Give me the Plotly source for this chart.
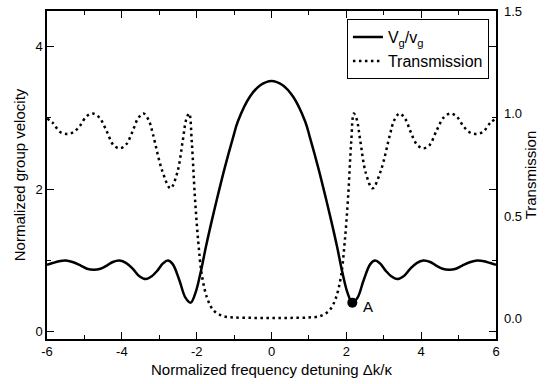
import plotly.graph_objects as go

# Normalized group velocity Vg/vg vs normalized detuning
detuning_vg = [-6.0, -5.85, -5.68, -5.5, -5.32, -5.1, -4.93, -4.75, -4.57, -4.4, -4.24, -4.06,
               -3.88, -3.7, -3.53, -3.36, -3.2, -3.05, -2.9, -2.77, -2.64, -2.46, -2.3, -2.16,
               -2.03, -1.9, -1.75, -1.6, -1.45, -1.25, -1.03, -0.9, -0.575, -0.3, 0.0,
               0.3, 0.575, 0.9, 1.03, 1.25, 1.45, 1.6, 1.75, 1.9, 2.03,
               2.16, 2.3, 2.46, 2.64, 2.77, 2.9, 3.05, 3.2, 3.36, 3.53, 3.7, 3.88,
               4.06, 4.24, 4.4, 4.57, 4.75, 4.93, 5.1, 5.32, 5.5, 5.68, 5.85, 6.0]
vg_ratio = [0.94, 0.965, 0.99, 1.0, 0.98, 0.93, 0.885, 0.87, 0.885, 0.93, 0.98, 1.0,
            0.965, 0.88, 0.78, 0.74, 0.78, 0.86, 0.96, 1.0, 0.95, 0.72, 0.48, 0.41,
            0.55, 0.82, 1.2, 1.55, 1.88, 2.3, 2.72, 2.95, 3.30, 3.46, 3.52,
            3.46, 3.30, 2.95, 2.72, 2.3, 1.88, 1.55, 1.2, 0.82, 0.55,
            0.41, 0.48, 0.72, 0.95, 1.0, 0.96, 0.86, 0.78, 0.74, 0.78, 0.88, 0.965,
            1.0, 0.98, 0.93, 0.885, 0.87, 0.885, 0.93, 0.98, 1.0, 0.99, 0.965, 0.94]

# Transmission vs normalized detuning
detuning_t = [-6.0, -5.85, -5.65, -5.46, -5.28, -5.12, -4.95, -4.78, -4.6, -4.42, -4.22, -4.05,
              -3.88, -3.72, -3.57, -3.42, -3.28, -3.17, -2.92, -2.7, -2.52, -2.37, -2.28, -2.2,
              -2.13, -2.05, -1.96, -1.86, -1.72, -1.55, -1.3, -1.0, -0.5, 0.0,
              0.5, 1.0, 1.3, 1.55, 1.72, 1.86, 1.96, 2.05, 2.13,
              2.2, 2.28, 2.37, 2.52, 2.7, 2.92, 3.17, 3.28, 3.42, 3.57, 3.72, 3.88,
              4.05, 4.22, 4.42, 4.6, 4.78, 4.95, 5.12, 5.28, 5.46, 5.65, 5.85, 6.0]
transmission = [0.975, 0.955, 0.91, 0.90, 0.91, 0.94, 0.985, 1.0, 0.98, 0.92, 0.845, 0.83,
                0.85, 0.91, 0.975, 1.0, 0.967, 0.9, 0.72, 0.635, 0.71, 0.87, 0.97, 1.0,
                0.86, 0.6, 0.38, 0.21, 0.10, 0.04, 0.012, 0.005, 0.003, 0.003,
                0.003, 0.005, 0.012, 0.04, 0.10, 0.21, 0.38, 0.6, 0.86,
                1.0, 0.97, 0.87, 0.71, 0.635, 0.72, 0.9, 0.967, 1.0, 0.975, 0.91, 0.85,
                0.83, 0.845, 0.92, 0.98, 1.0, 0.985, 0.94, 0.91, 0.90, 0.91, 0.955, 0.975]

point_a_x = [2.16]
point_a_y = [0.41]
point_a_label = "A"

x_ticks = [-6, -4, -2, 0, 2, 4, 6]
x_ticktext = ["-6", "-4", "-2", "0", "2", "4", "6"]
x_minor = [-5, -3, -1, 1, 3, 5]
y_ticks = [0, 2, 4]
y_minor = [1, 3]
y2_ticks = [0.0, 0.5, 1.0, 1.5]
y2_ticktext = ["0.0", "0.5", "1.0", "1.5"]

FONT = "Liberation Sans, Arial, sans-serif"

fig = go.Figure()
fig.add_trace(go.Scatter(
    x=detuning_vg, y=vg_ratio, mode="lines", name="V<sub>g</sub>/v<sub>g</sub>",
    line=dict(color="black", width=2.5, shape="spline", smoothing=1.0),
))
fig.add_trace(go.Scatter(
    x=detuning_t, y=transmission, mode="lines", name="Transmission", yaxis="y2",
    line=dict(color="black", width=2.5, dash="2.5px,3.5px", shape="spline", smoothing=1.0),
))
fig.add_trace(go.Scatter(
    x=point_a_x, y=point_a_y, mode="markers", showlegend=False,
    marker=dict(color="black", size=10),
))
fig.add_annotation(x=2.58, y=0.35, text=point_a_label, showarrow=False,
                   font=dict(size=15, color="black", family=FONT))

axis_common = dict(showline=True, linecolor="black", linewidth=1.5, showgrid=False,
                   zeroline=False, ticks="inside", ticklen=7, tickwidth=1.2, tickcolor="black",
                   mirror="ticks", automargin=False)

fig.update_layout(
    width=547, height=384,
    margin=dict(l=47, r=51, t=11, b=45),
    paper_bgcolor="white", plot_bgcolor="white",
    font=dict(family=FONT, size=13, color="black"),
    showlegend=True,
    legend=dict(x=0.668, y=0.975, xanchor="left", yanchor="top",
                bordercolor="black", borderwidth=1, bgcolor="white",
                font=dict(size=16, family=FONT), tracegroupgap=0),
    xaxis=dict(range=[-6, 6], tickmode="array", tickvals=x_ticks, ticktext=x_ticktext,
               minor=dict(tickvals=x_minor, ticks="inside", ticklen=4, tickcolor="black"),
               title=dict(text="Normalized frequency detuning \u0394k/\u03ba", font=dict(size=15),
                          standoff=6),
               **axis_common),
    yaxis=dict(range=[-0.1, 4.5], tickmode="array", tickvals=y_ticks,
               minor=dict(tickvals=y_minor, ticks="inside", ticklen=4, tickcolor="black"),
               title=dict(text="Normalized group velocity", font=dict(size=15), standoff=6),
               **axis_common),
    yaxis2=dict(overlaying="y", side="right", range=[-0.1, 1.5], tickmode="array",
                tickvals=y2_ticks, ticktext=y2_ticktext, ticks="", showline=False,
                showgrid=False, zeroline=False, automargin=False, ticklabelstandoff=7,
                title=dict(text="Transmission", font=dict(size=15), standoff=2)),
)

fig.write_html("out.html")
